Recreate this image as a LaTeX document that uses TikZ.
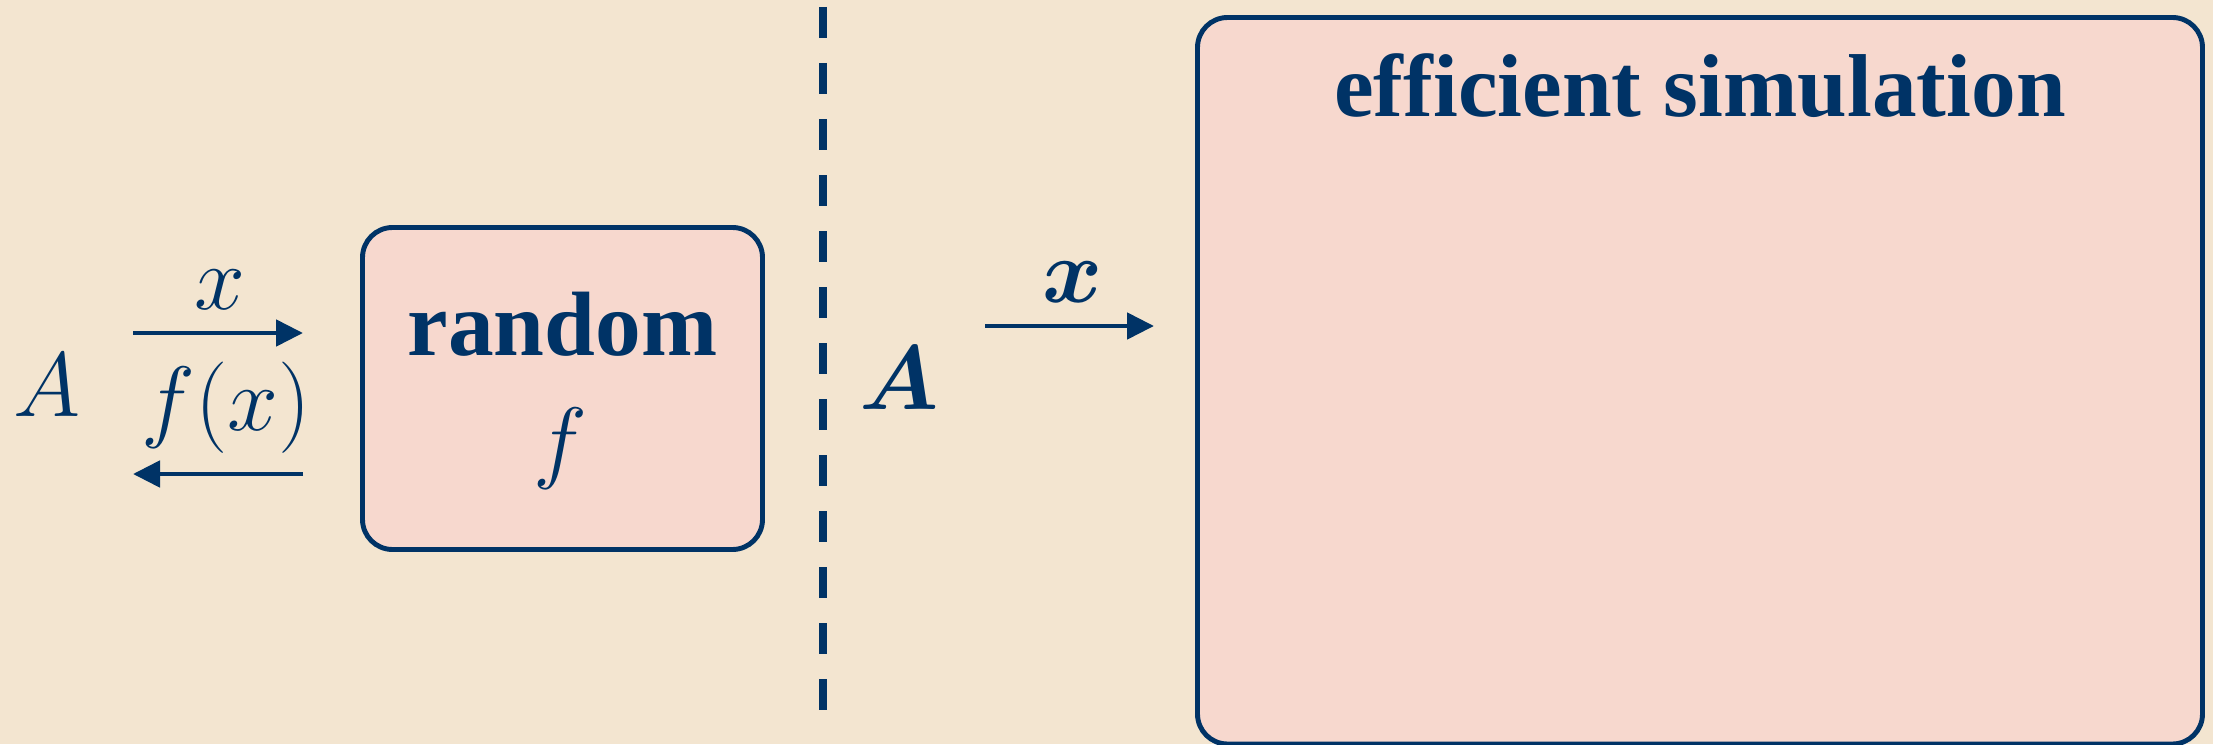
\RequirePackage{fix-cm}
\documentclass[tikz,border=0pt]{standalone}
\usepackage{amsmath,amssymb}
\usepackage{fontspec}
\setmainfont{Liberation Serif}
\usetikzlibrary{arrows.meta,positioning}

\definecolor{bgcream}{RGB}{243,229,208}
\definecolor{boxpink}{RGB}{247,216,206}
\definecolor{navy}{RGB}{0,51,102}

\tikzset{
  txt/.style={text=navy, inner sep=0pt, font=\fontsize{26}{32}\selectfont},
  oraclebox/.style={draw=navy, fill=boxpink, line width=1.4pt, rounded corners=3mm, inner sep=0pt},
  query/.style={draw=navy, line width=1.4pt, -{Triangle[length=2.7mm,width=2.6mm]}},
}

\begin{document}
\begin{tikzpicture}

% Canvas
\fill[bgcream] (0,0) rectangle (22.13,7.44);
\useasboundingbox (0,0) rectangle (22.13,7.44);

% Left half: adversary talks to a random function
\node[txt] (advL) at (0.47,3.59) {$A$};
\coordinate (qL0) at (1.33,4.11);
\coordinate (qL1) at (3.03,4.11);
\coordinate (aL0) at (3.03,2.70);
\coordinate (aL1) at (1.33,2.70);
\draw[query] (qL0) -- (qL1);
\draw[query] (aL0) -- (aL1);
\node[txt] (qlblL) at (2.20,4.54) {$x$};
\node[txt] (albl) at (2.26,3.36) {$f(x)$};

\node[oraclebox, minimum width=4.0cm, minimum height=3.22cm] (oracle) at (5.625,3.555) {};
\node[txt, anchor=base] (randlbl) at (5.625,3.89) {\textbf{random}};
\node[txt] (flbl) at (5.60,2.95) {$f$};

% Separator
\draw[navy, line width=2.3pt, dash pattern=on 3.1mm off 2.5mm] (8.23,7.37) -- (8.23,0.34);

% Right half: adversary talks to the simulator
\node[txt] (advR) at (8.99,3.66) {$\boldsymbol{A}$};
\coordinate (qR0) at (9.85,4.18);
\coordinate (qR1) at (11.54,4.18);
\draw[query] (qR0) -- (qR1);
\node[txt] (qlblR) at (10.73,4.62) {$\boldsymbol{x}$};

\node[oraclebox, minimum width=10.05cm, minimum height=7.265cm] (sim) at (17.0,3.6325) {};
\node[txt, anchor=base, font=\fontsize{25.4}{30}\selectfont] (simlbl) at (17.0,6.27) {\textbf{efficient simulation}};

\end{tikzpicture}
\end{document}
